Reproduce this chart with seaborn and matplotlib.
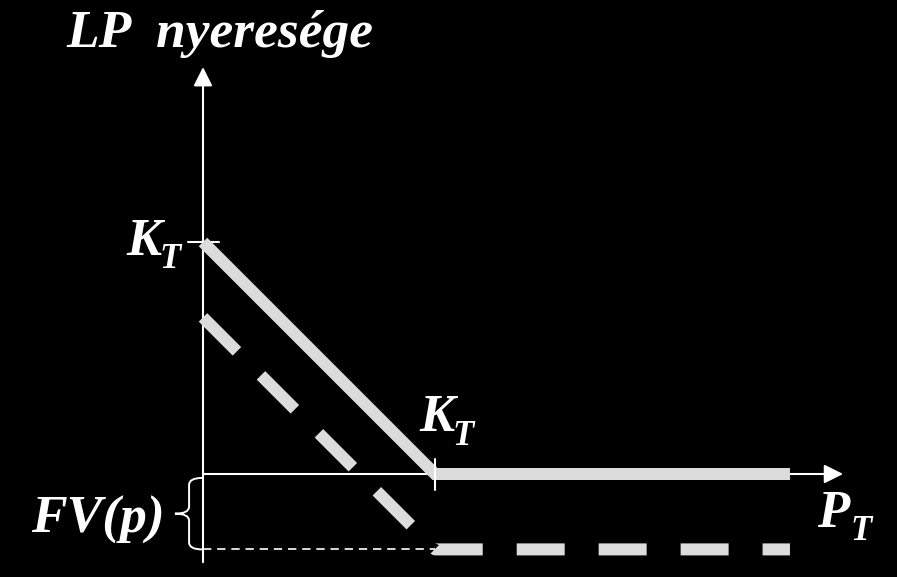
import numpy as np
import pandas as pd
import matplotlib
matplotlib.use("Agg")
import matplotlib.pyplot as plt
import seaborn as sns
from matplotlib.path import Path
from matplotlib.patches import PathPatch

# ---------------- data ----------------
strike = 1.0                       # K_T
fv_premium = 0.325                 # FV(p)
price_points = [0.0, 1.0, 2.53]    # P_T
profit_gross = [1.0, 0.0, 0.0]     # max(K_T - P_T, 0)
profit_net = [0.675, -0.325, -0.325]  # max(K_T - P_T, 0) - FV(p)
y_title = "LP  nyeresége"
strike_label = ("K", "T")
price_label = ("P", "T")
premium_label = "FV(p)"

df = pd.DataFrame({"P": price_points, "gross": profit_gross, "net": profit_net})

# ---------------- figure ----------------
W, H = 897, 577
PX = 232.0             # pixels per data unit
OX, OY = 203.0, 474.0  # pixel position of origin

sns.set_style("dark")
fig = plt.figure(figsize=(W / 100, H / 100), dpi=100, facecolor="black")
ax = fig.add_axes([0, 0, 1, 1])
ax.set_facecolor("black")
ax.set_xlim(-OX / PX, (W - OX) / PX)
ax.set_ylim(-(H - OY) / PX, OY / PX)
ax.axis("off")

LINE = "#dcdcdc"
lw_thick = 12 * 0.72

# axes with arrows
arrow_kw = dict(arrowstyle="-|>,head_length=0.46,head_width=0.23", color="white",
                lw=1.5, shrinkA=0, shrinkB=0, mutation_scale=25)
ax.annotate("", xy=(2.759, 0), xytext=(0, 0), arrowprops=arrow_kw, zorder=2)
ax.annotate("", xy=(0, 1.754), xytext=(0, -0.38), arrowprops=arrow_kw, zorder=2)

# ticks at strike
ax.plot([-0.066, 0.069], [strike, strike], color="white", lw=1.5, zorder=2)
ax.plot([strike, strike], [-0.069, 0.065], color="white", lw=1.5, zorder=4)

# thin dashed helper line at -FV(p)
ax.plot([0, strike], [-fv_premium, -fv_premium], color="white", lw=1.2,
        dashes=(5, 3.5), zorder=2)

# payoff lines
sns.lineplot(data=df, x="P", y="gross", ax=ax, color=LINE, linewidth=lw_thick,
             solid_capstyle="butt", solid_joinstyle="miter", sort=False, zorder=3)
sns.lineplot(data=df, x="P", y="net", ax=ax, color=LINE, linewidth=lw_thick,
             sort=False, zorder=3)
ax.lines[-1].set_dashes((4.0, 2.83))
ax.lines[-1].set_dash_capstyle("butt")

# brace showing FV(p)
x0, xb, xt = -0.004, -0.060, -0.121
y_top, y_bot = -0.017, -fv_premium
ym = (y_top + y_bot) / 2
r = 0.03
verts = [(x0, y_top), (xb, y_top), (xb, y_top - r),
         (xb, ym + r),
         (xb, ym), (xt, ym),
         (xb, ym), (xb, ym - r),
         (xb, y_bot + r),
         (xb, y_bot), (x0, y_bot)]
codes = [Path.MOVETO, Path.CURVE3, Path.CURVE3,
         Path.LINETO,
         Path.CURVE3, Path.CURVE3,
         Path.CURVE3, Path.CURVE3,
         Path.LINETO,
         Path.CURVE3, Path.CURVE3]
ax.add_patch(PathPatch(Path(verts, codes), facecolor="none", edgecolor="white", lw=1.4, zorder=2))

# ---------------- text ----------------
font = dict(family="Liberation Serif", weight="bold", style="italic", color="white")


def ftext(xp, yp, s, size):
    fig.text(xp / W, 1 - yp / H, s, fontsize=size, ha="left", va="baseline", **font)


ftext(66, 47, y_title, 38.5)
# K_T on the vertical axis
ftext(126, 255, strike_label[0], 38)
ftext(159, 268, strike_label[1], 25)
# K_T on the horizontal axis
ftext(419, 431, strike_label[0], 38)
ftext(452, 445, strike_label[1], 25)
# P_T
ftext(817, 527, price_label[0], 38)
ftext(850, 540, price_label[1], 25)
# FV(p)
ftext(31, 533, premium_label, 38.5)

fig.savefig("out.png", dpi=100, facecolor="black")
